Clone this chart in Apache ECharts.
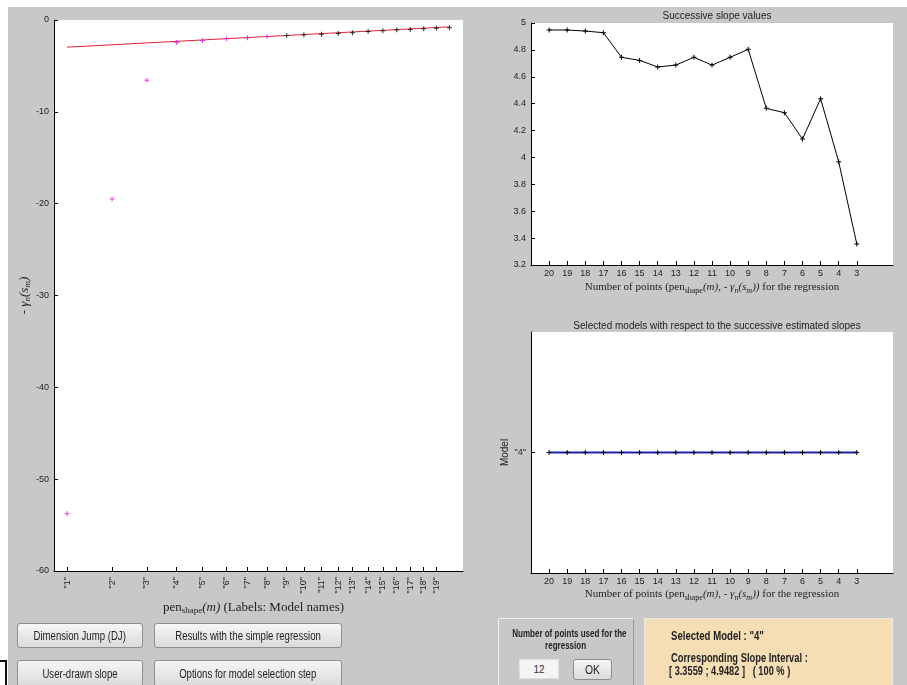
<!DOCTYPE html>
<html>
<head>
<meta charset="utf-8">
<title>Slope heuristic</title>
<script src="https://cdn.jsdelivr.net/npm/echarts@6/dist/echarts.min.js"></script>
<style>
  html, body { margin: 0; padding: 0; background: #fff; }
  #wrap { position: relative; width: 907px; height: 685px; overflow: hidden; }
  #bg { position: absolute; left: 8px; top: 7px; right: 0; bottom: 0; background: #c8c8c8; }
  #chart { position: absolute; left: 0; top: 0; width: 907px; height: 685px; }
  .btn {
    position: absolute; box-sizing: border-box;
    border: 1px solid #8e8e8e; border-radius: 3px;
    background: linear-gradient(#f6f6f6, #dadada);
    font: 12px "Liberation Sans", Arial, sans-serif;
    color: #222; display: flex; align-items: center; justify-content: center;
  }
  .btn span, .nb span { display: inline-block; white-space: pre; }
  .btn span { transform: scaleX(0.8); }
  .box { position: absolute; box-sizing: border-box; }
  .nb { font: bold 10px "Liberation Sans", Arial, sans-serif; color: #222; }
</style>
</head>
<body>
<div id="wrap">
  <div id="bg"></div>
  <div id="chart"></div>

  <div class="btn" style="left:17px;top:623px;width:126px;height:25px;"><span>Dimension Jump (DJ)</span></div>
  <div class="btn" style="left:154px;top:623px;width:188px;height:25px;"><span>Results with the simple regression</span></div>
  <div class="btn" style="left:17px;top:660px;width:126px;height:27px;"><span>User-drawn slope</span></div>
  <div class="btn" style="left:154px;top:660px;width:188px;height:27px;"><span>Options for model selection step</span></div>

  <div class="box" style="left:0;top:660px;width:7px;height:30px;border-top:2px solid #111;border-right:2px solid #111;"></div>

  <!-- number of points panel -->
  <div class="box" style="left:498px;top:618px;width:136px;height:70px;border:1px solid #eeeeee;border-right-color:#9a9a9a;"></div>
  <div class="box nb" style="left:498px;top:628px;width:136px;text-align:center;line-height:12px;">
    <span style="transform:scaleX(0.8);">Number of points used for the</span><br><span style="transform:scaleX(0.8);">regression</span>
  </div>
  <div class="box" style="left:519px;top:659px;width:40px;height:20px;background:#f4f4f4;border:1px solid #e0e0e0;font:10px 'Liberation Sans',Arial,sans-serif;color:#333;display:flex;align-items:center;justify-content:center;">12</div>
  <div class="btn" style="left:573px;top:659px;width:39px;height:21px;font-size:13px;"><span>OK</span></div>

  <!-- result panel -->
  <div class="box" style="left:644px;top:618px;width:249px;height:70px;background:#f5deb3;border:1px solid #e9e9e9;"></div>
  <div class="box nb" style="left:671px;top:629px;font-size:12px;"><span style="transform:scaleX(0.8);transform-origin:left;">Selected Model : "4"</span></div>
  <div class="box nb" style="left:671px;top:651px;font-size:12px;"><span style="transform:scaleX(0.78);transform-origin:left;">Corresponding Slope Interval :</span></div>
  <div class="box nb" style="left:669px;top:664px;font-size:12px;"><span style="transform:scaleX(0.77);transform-origin:left;">[ 3.3559 ; 4.9482 ]   ( 100 % )</span></div>
</div>

<script>
// model names (left plot tick labels stop at "19")
const modelNames = ['1', '2', '3', '4', '5', '6', '7', '8', '9', '10',
  '11', '12', '13', '14', '15', '16', '17', '18', '19', '20']
// penalty shape of each model (x position, arbitrary axis units)
const penShape = [3.2, 14.2, 22.7, 30.0, 36.3, 42.2, 47.3, 52.1, 56.9, 61.1,
  65.4, 69.5, 73.0, 76.8, 80.4, 83.8, 87.1, 90.4, 93.5, 96.7]
// - gamma_n(s_m)
const gammaVals = [-53.76, -19.48, -6.56, -2.45, -2.23, -2.05, -1.94, -1.80, -1.69, -1.61,
  -1.54, -1.47, -1.40, -1.25, -1.18, -1.07, -1.03, -0.96, -0.89, -0.85]
const nTicked = 19
const nUsed = 12
// regression line end points
const regX = [3.2, 96.7]
const regY = [-2.96, -0.74]

// successive slopes
const nPoints = [20, 19, 18, 17, 16, 15, 14, 13, 12, 11, 10, 9, 8, 7, 6, 5, 4, 3]
const slopeVals = [4.948, 4.948, 4.94, 4.928, 4.745, 4.722, 4.673, 4.687, 4.745, 4.687,
  4.745, 4.804, 4.365, 4.333, 4.137, 4.437, 3.968, 3.356]
// selected model for each number of points
const selModel = [4, 4, 4, 4, 4, 4, 4, 4, 4, 4, 4, 4, 4, 4, 4, 4, 4, 4]

const SANS = '"Liberation Sans", Arial, sans-serif'
const SERIF = '"Liberation Serif", "DejaVu Serif", serif'
const INK = '#1e1e1e'
const PLUS = 'path://M0,3.2H8V4.8H0Z M3.2,0H4.8V8H3.2Z'

const axisLine = { show: true, onZero: false, lineStyle: { color: '#000', width: 1 } }
const tick = { show: true, inside: true, length: 4, lineStyle: { color: '#000' } }
const lbl = { color: INK, fontSize: 9, fontFamily: SANS }

// rich styles for the LaTeX-like axis names
function richStyles(size) {
  const sub = Math.round(size * 0.72)
  return {
    a: { fontFamily: SERIF, fontSize: size, color: INK, height: size + 6, verticalAlign: 'middle' },
    i: { fontFamily: SERIF, fontSize: size, fontStyle: 'italic', color: INK, height: size + 6, verticalAlign: 'middle' },
    s: { fontFamily: SERIF, fontSize: sub, color: INK, height: size + 6, verticalAlign: 'bottom', padding: [6, 0, 0, 0] },
    si: { fontFamily: SERIF, fontSize: sub, fontStyle: 'italic', color: INK, height: size + 6, verticalAlign: 'bottom', padding: [6, 0, 0, 0] }
  }
}
const pointsName = '{a|Number of points (pen}{s|shape}{i|(m)}{a|, - }{i|γ}{si|n}{i|(s}{si|m}{i|))}{a| for the regression}'

const tickPos = penShape.slice(0, nTicked)
const rightTicks = nPoints.slice()

const option = {
  animation: false,
  title: [
    { text: 'Successive slope values', left: 712, top: 6, textAlign: 'center',
      textStyle: { fontSize: 10, fontWeight: 'normal', color: INK, fontFamily: SANS } },
    { text: 'Selected models with respect to the successive estimated slopes', left: 712, top: 316, textAlign: 'center',
      textStyle: { fontSize: 10, fontWeight: 'normal', color: INK, fontFamily: SANS } }
  ],
  grid: [
    { left: 54, top: 20, width: 409, height: 551, show: true, backgroundColor: '#fff', borderWidth: 0, outerBoundsMode: 'none' },
    { left: 531, top: 23, width: 362, height: 242, show: true, backgroundColor: '#fff', borderWidth: 0, outerBoundsMode: 'none' },
    { left: 531, top: 332, width: 362, height: 241, show: true, backgroundColor: '#fff', borderWidth: 0, outerBoundsMode: 'none' }
  ],
  xAxis: [
    {
      gridIndex: 0, type: 'value', min: 0, max: 100, position: 'bottom',
      axisLine, axisTick: { ...tick, customValues: tickPos },
      axisLabel: {
        ...lbl, rotate: 90, margin: 6, customValues: tickPos,
        formatter: v => '"' + modelNames[tickPos.indexOf(v)] + '"'
      },
      splitLine: { show: false },
      name: '{a|pen}{s|shape}{i|(m)}{a| (Labels: Model names)}',
      nameLocation: 'middle', nameGap: 24,
      nameTextStyle: { rich: richStyles(13), padding: [0, 10, 0, 0] }
    },
    {
      gridIndex: 1, type: 'value', min: 1, max: 21, inverse: true, position: 'bottom',
      axisLine, axisTick: { ...tick, customValues: rightTicks },
      axisLabel: { ...lbl, margin: 4, customValues: rightTicks },
      splitLine: { show: false },
      name: pointsName, nameLocation: 'middle', nameGap: 11,
      nameTextStyle: { rich: richStyles(11) }
    },
    {
      gridIndex: 2, type: 'value', min: 1, max: 21, inverse: true, position: 'bottom',
      axisLine, axisTick: { ...tick, customValues: rightTicks },
      axisLabel: { ...lbl, margin: 4, customValues: rightTicks },
      splitLine: { show: false },
      name: pointsName, nameLocation: 'middle', nameGap: 10,
      nameTextStyle: { rich: richStyles(11) }
    }
  ],
  yAxis: [
    {
      gridIndex: 0, type: 'value', min: -60, max: 0, interval: 10,
      axisLine, axisTick: tick, axisLabel: { ...lbl, margin: 5 },
      splitLine: { show: false },
      name: '{a|- }{i|γ}{si|n}{i|(s}{si|m}{i|)}',
      nameLocation: 'middle', nameGap: 14, nameRotate: 90,
      nameTextStyle: { rich: richStyles(13) }
    },
    {
      gridIndex: 1, type: 'value', min: 3.2, max: 5, interval: 0.2,
      axisLine, axisTick: tick, axisLabel: { ...lbl, margin: 5 },
      splitLine: { show: false }
    },
    {
      gridIndex: 2, type: 'value', min: 3, max: 5,
      axisLine, axisTick: { ...tick, customValues: [4] },
      axisLabel: { ...lbl, margin: 5, customValues: [4], formatter: v => '"' + v + '"' },
      splitLine: { show: false },
      name: 'Model', nameLocation: 'middle', nameGap: 19, nameRotate: 90,
      nameTextStyle: { color: INK, fontSize: 10, fontFamily: SANS }
    }
  ],
  series: [
    {
      type: 'line', xAxisIndex: 0, yAxisIndex: 0, showSymbol: false,
      lineStyle: { color: '#e0203c', width: 1 },
      data: regX.map((x, i) => [x, regY[i]]), z: 2
    },
    {
      type: 'scatter', xAxisIndex: 0, yAxisIndex: 0, symbol: PLUS, symbolSize: 5,
      itemStyle: { color: '#e010e0' },
      data: penShape.slice(0, penShape.length - nUsed).map((x, i) => [x, gammaVals[i]]), z: 3
    },
    {
      type: 'scatter', xAxisIndex: 0, yAxisIndex: 0, symbol: PLUS, symbolSize: 5,
      itemStyle: { color: '#000' },
      data: penShape.slice(penShape.length - nUsed).map((x, i) => [x, gammaVals[penShape.length - nUsed + i]]), z: 3
    },
    {
      type: 'line', xAxisIndex: 1, yAxisIndex: 1, symbol: PLUS, symbolSize: 5,
      itemStyle: { color: '#000' }, lineStyle: { color: '#000', width: 1 },
      data: nPoints.map((n, i) => [n, slopeVals[i]])
    },
    {
      type: 'line', xAxisIndex: 2, yAxisIndex: 2, symbol: PLUS, symbolSize: 5,
      itemStyle: { color: '#000' }, lineStyle: { color: '#2020b0', width: 2 },
      data: nPoints.map((n, i) => [n, selModel[i]])
    }
  ]
}

const chart = echarts.init(document.getElementById('chart'), null, { renderer: 'canvas' })
chart.setOption(option)
</script>
</body>
</html>
